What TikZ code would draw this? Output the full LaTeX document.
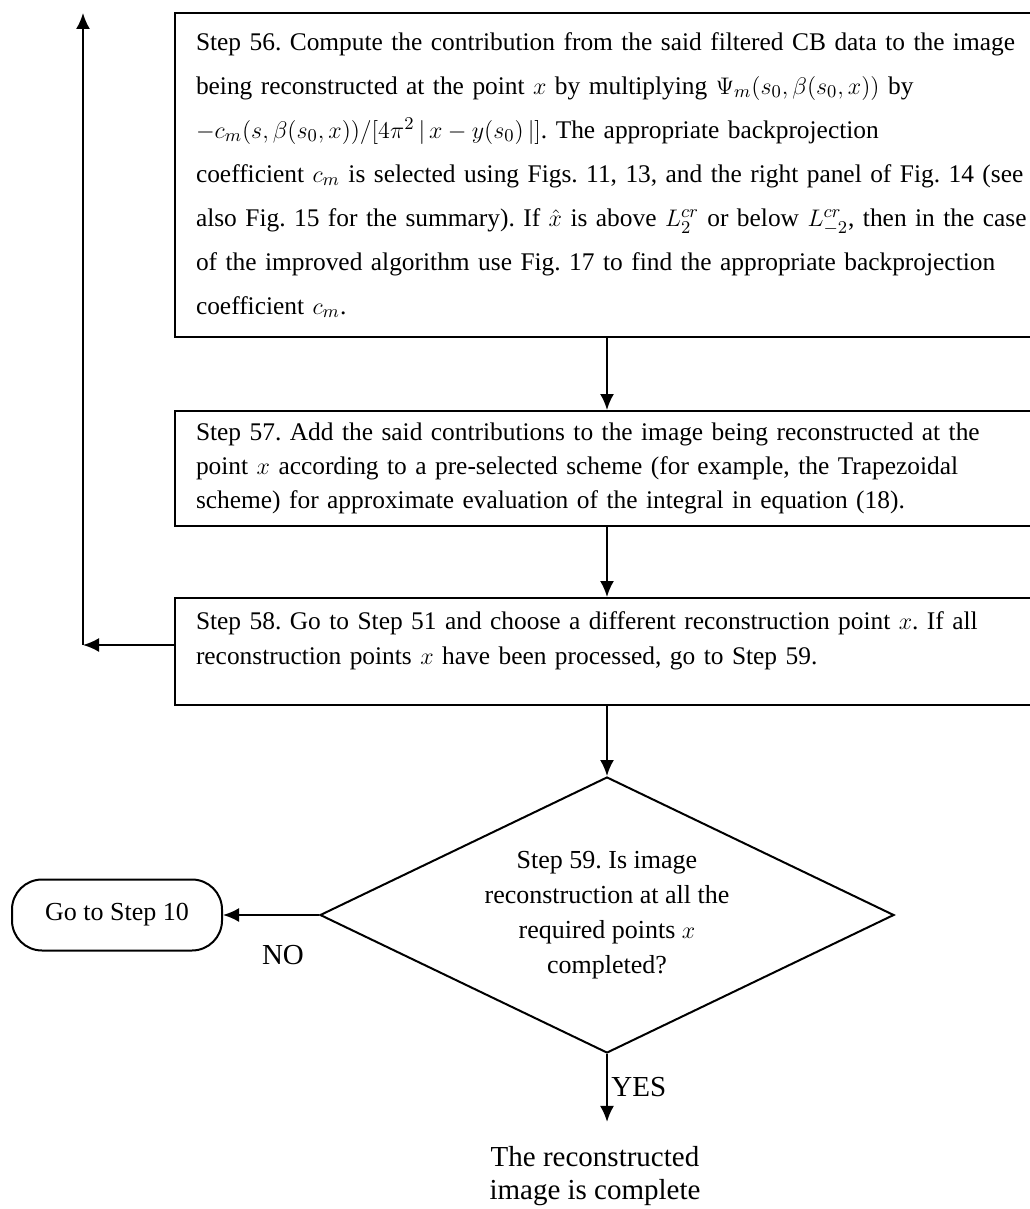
\documentclass[tikz,border=0pt]{standalone}
\usepackage{amsmath,amssymb}
\usepackage{fontspec}
\setmainfont{Liberation Serif}
\usepackage{tikz}
\usetikzlibrary{shapes, arrows.meta}
\tikzset{>={Latex[length=8pt,width=7pt]}}
\tikzset{stepbox/.style={draw, line width=1pt, anchor=north west, minimum width=435.5pt,
  inner xsep=10.5pt, inner ysep=0pt, text width=470pt, align=left}}
\tikzset{flow/.style={->, line width=1pt}}
\frenchspacing

\begin{document}
\begin{tikzpicture}[x=0.5pt, y=-0.5pt]
\useasboundingbox (0,0) rectangle (1029,1209);
\node[stepbox, minimum height=162pt, font=\fontsize{12.7}{22}\selectfont] (box56) at (174,12)
{Step 56. Compute the contribution from the said filtered CB data to the image\\
being reconstructed at the point $x$ by multiplying $\Psi_m(s_0,\beta(s_0,x))$ by\\
$-c_m(s,\beta(s_0,x))/[4\pi^2\,|\,x-y(s_0)\,|]$. The appropriate backprojection\\
coefficient $c_m$ is selected using Figs. 11, 13, and the right panel of Fig. 14 (see\\
also Fig. 15 for the summary). If $\hat{x}$ is above $L_2^{cr}$ or below $L_{-2}^{cr}$, then in the case\\
of the improved algorithm use Fig. 17 to find the appropriate backprojection\\
coefficient $c_m$.};
\node[stepbox, minimum height=57.5pt, font=\fontsize{12.7}{17}\selectfont] (box57) at (174,410)
{Step 57. Add the said contributions to the image being reconstructed at the\\
point $x$ according to a pre-selected scheme (for example, the Trapezoidal\\
scheme) for approximate evaluation of the integral in equation (18).};
\node[stepbox, minimum height=53.5pt, font=\fontsize{12.7}{17.5}\selectfont] (box58) at (174,597)
{Step 58. Go to Step 51 and choose a different reconstruction point $x$. If all\\
reconstruction points $x$ have been processed, go to Step 59.\\[-4pt]\mbox{}};
\node[diamond, draw, line width=1pt, aspect=2, inner sep=0pt, minimum width=287pt,
  minimum height=138pt, align=center, font=\fontsize{13}{17.5}\selectfont] (dec) at (607,915)
{Step 59. Is image\\reconstruction at all the\\required points $x$\\completed?};
\node[draw, line width=1pt, rounded corners=15pt, minimum width=105pt, minimum height=35.5pt,
  font=\fontsize{13}{15}\selectfont] (goto) at (117,915) {Go to Step 10};
\node[font=\fontsize{14.5}{16}\selectfont] (no) at (283,955) {NO};
\node[anchor=west, inner sep=0pt, font=\fontsize{14.5}{16}\selectfont] (yes) at (611,1087) {YES};
\node[align=center, inner xsep=0pt, inner ysep=12pt, font=\fontsize{14.5}{16.5}\selectfont] (done) at (595,1176)
{The reconstructed\\image is complete};
\coordinate (fb) at (83,645);
\coordinate (top) at (83,13);

\draw[flow] (box56.south -| dec.north) -- (box57.north -| dec.north);
\draw[flow] (box57.south -| dec.north) -- (box58.north -| dec.north);
\draw[flow] (box58.south -| dec.north) -- (dec.north);
\draw[flow] (dec.west) -- (goto.east);
\draw[flow] (dec.south) -- (dec.south |- done.north);
\draw[flow] (fb -| box58.west) -- (fb);
\draw[flow] (fb) -- (top);
\end{tikzpicture}
\end{document}
